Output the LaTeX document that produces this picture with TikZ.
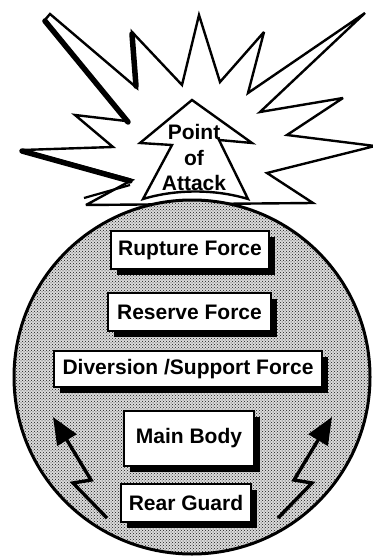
\documentclass[tikz,border=0pt]{standalone}
\usepackage{fontspec}
\setmainfont{Liberation Sans}
\usetikzlibrary{arrows.meta,shadows,patterns}
\begin{document}
\begin{tikzpicture}[x=1pt,y=-1pt,
  lbl/.style={font=\bfseries\fontsize{21}{25}\selectfont},
  forcebox/.style={draw=black, line width=1.5pt, fill=white, lbl, inner sep=0pt,
    drop shadow={shadow xshift=5.5pt, shadow yshift=-5.5pt, fill=black, opacity=1}},
  burst/.style={draw=black, line width=2.4pt, line join=miter, miter limit=4},
  thickedge/.style={line width=5.5pt, line cap=round},
  bolt/.style={line width=3.4pt, line join=miter, -{Triangle[length=27pt,width=22pt]}},
]
\useasboundingbox (0,0) rectangle (372,556);

% starburst
\draw[burst] (86,205) -- (132,180) -- (22,150) -- (113,147) -- (75,115) -- (126,121)
  -- (44,21) -- (50,14) -- (137,88) -- (132,32) -- (182,85) -- (199,15) -- (220,82)
  -- (264,32) -- (248,93) -- (365,13) -- (260,112) -- (343,98) -- (287,135)
  -- (375,146) -- (267,173) -- (313,203) -- cycle;
\draw[thickedge] (45,21) -- (128,122);
\draw[thickedge] (22,151) -- (130,181);
\draw[thickedge] (132,34) -- (136,86);
\draw[line width=2.2pt] (84,198) -- (130,185);

% circle
\draw[line width=3pt, preaction={fill=black!14}, pattern=crosshatch dots, pattern color=black!90]
  (192,377) ellipse[x radius=178, y radius=177];

% point of attack arrow
\draw[line width=2.4pt, fill=white, line join=miter]
  (192,100) -- (252,143) -- (219,140) -- (248,199) .. controls (215,189) and (176,189) .. (143,199)
  -- (172,145) -- (140,143) -- cycle;
\node[lbl, anchor=base] (poa1) at (194,140) {Point};
\node[lbl, anchor=base] (poa2) at (194,165) {of};
\node[lbl, anchor=base] (poa3) at (194,190) {Attack};

% force boxes
\node[forcebox, minimum width=158, minimum height=38] (rupture) at (190,250) {Rupture Force};
\node[forcebox, minimum width=163, minimum height=38] (reserve) at (189.5,312) {Reserve Force};
\node[forcebox, minimum width=268, minimum height=36] (diversion) at (188,369) {Diversion /Support Force};
\node[forcebox, minimum width=130, minimum height=55] (main) at (189,438.5) {Main Body};
\node[forcebox, minimum width=130, minimum height=38] (rear) at (186,503) {Rear Guard};

% lightning bolts
\coordinate (la) at (107,518);
\coordinate (lb) at (73,483);
\coordinate (lc) at (91,480);
\coordinate (ld) at (53,417);
\coordinate (ra) at (278,518);
\coordinate (rb) at (312,483);
\coordinate (rc) at (294,480);
\coordinate (rd) at (332,417);
\draw[bolt] (la) -- (lb) -- (lc) -- (ld);
\draw[bolt] (ra) -- (rb) -- (rc) -- (rd);
\end{tikzpicture}
\end{document}
